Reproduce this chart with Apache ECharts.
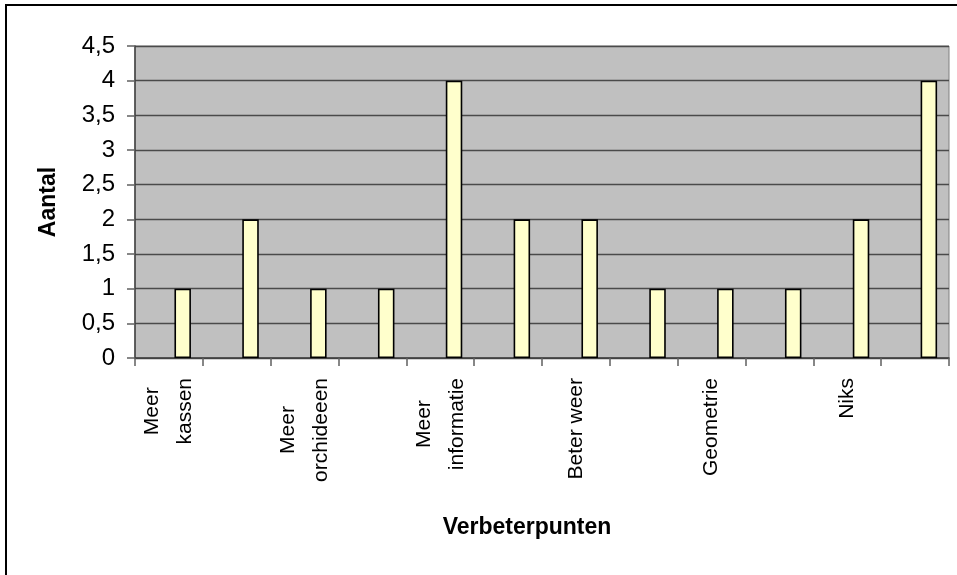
<!DOCTYPE html>
<html>
<head>
<meta charset="utf-8">
<script src="https://cdn.jsdelivr.net/npm/echarts@6/dist/echarts.min.js"></script>
<style>
html,body{margin:0;padding:0;background:#fff;}
#chart{width:957px;height:575px;}
</style>
</head>
<body>
<div id="chart"></div>
<script>
var categories = ['Meer\nkassen', '', 'Meer\norchideeen', '', 'Meer\ninformatie', '', 'Beter weer', '', 'Geometrie', '', 'Niks', ''];
var values = [1, 2, 1, 1, 4, 2, 2, 1, 1, 1, 2, 4];
var placeholder = [null, null, null, null, null, null, null, null, null, null, null, null];
var yTicks = [0, 0.5, 1, 1.5, 2, 2.5, 3, 3.5, 4, 4.5];
var xTitle = 'Verbeterpunten';
var yTitle = 'Aantal';

var FONT = '"Liberation Sans", Arial, sans-serif';
var chart = echarts.init(document.getElementById('chart'), null, {renderer: 'canvas'});
chart.setOption({
  animation: false,
  backgroundColor: '#ffffff',
  graphic: [{
    type: 'rect',
    shape: {x: 6, y: 5, width: 1000, height: 1000},
    style: {fill: 'none', stroke: '#000', lineWidth: 2},
    z: 100
  }],
  grid: {
    left: 135, right: 8, top: 46, bottom: 217,
    show: true,
    backgroundColor: '#c0c0c0',
    borderColor: '#808080',
    borderWidth: 1
  },
  xAxis: {
    type: 'category',
    data: categories,
    name: xTitle,
    nameLocation: 'middle',
    nameGap: 158,
    nameTextStyle: {fontFamily: FONT, fontSize: 23, fontWeight: 'bold', color: '#000', padding: [0, 30, 0, 0]},
    axisLine: {show: true, lineStyle: {color: '#404040', width: 1.5}},
    axisTick: {show: true, length: 8, interval: 0, alignWithLabel: false, lineStyle: {color: '#606060', width: 1.5}},
    axisLabel: {
      interval: 0,
      rotate: 90,
      margin: 20,
      fontFamily: FONT,
      fontSize: 21,
      color: '#000',
      lineHeight: 33,
      formatter: function (v) {
        if (!v) return '';
        return v.split('\n').map(function (s) { return '{c|' + s + '}'; }).join('\n');
      },
      rich: {c: {align: 'center', fontFamily: FONT, fontSize: 21, color: '#000', lineHeight: 33}}
    },
    splitLine: {show: false}
  },
  yAxis: {
    type: 'value',
    min: 0, max: 4.5, interval: 0.5,
    name: yTitle,
    nameLocation: 'middle',
    nameGap: 75,
    nameRotate: 90,
    nameTextStyle: {fontFamily: FONT, fontSize: 23, fontWeight: 'bold', color: '#000'},
    axisLine: {show: true, lineStyle: {color: '#404040', width: 1.5}},
    axisTick: {show: true, length: 8, lineStyle: {color: '#606060', width: 1.5}},
    axisLabel: {
      margin: 20,
      fontFamily: FONT,
      fontSize: 24,
      color: '#000',
      formatter: function (v) { return String(v).replace('.', ','); }
    },
    splitLine: {show: true, lineStyle: {color: '#4a4a4a', width: 1.3}}
  },
  series: [
    {type: 'bar', data: placeholder, barWidth: 16.5, barGap: '67%', silent: true},
    {
      type: 'bar',
      data: values,
      barWidth: 16.5,
      barGap: '67%',
      itemStyle: {color: '#ffffcc', borderColor: '#000', borderWidth: 1.6}
    }
  ]
});
</script>
</body>
</html>
